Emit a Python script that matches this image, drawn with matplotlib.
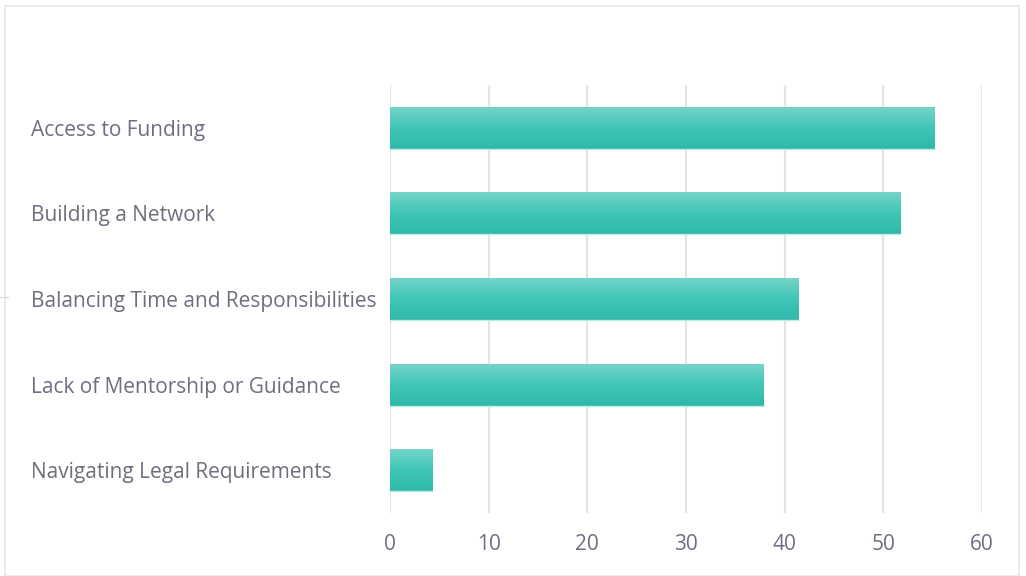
import matplotlib.pyplot as plt
import numpy as np
from matplotlib.patches import Rectangle
from matplotlib.colors import LinearSegmentedColormap

plt.rcParams['font.family'] = ['Open Sans', 'DejaVu Sans']

categories = ['Access to Funding', 'Building a Network', 'Balancing Time and Responsibilities',
              'Lack of Mentorship or Guidance', 'Navigating Legal Requirements']
values = [55.2, 51.7, 41.4, 37.9, 4.3]
xticks = [0, 10, 20, 30, 40, 50, 60]

text_color = '#6e6e80'

fig = plt.figure(figsize=(10.26, 5.76), dpi=100)
fig.patches.append(Rectangle((5 / 1026, 0), 1014 / 1026, 570 / 576, transform=fig.transFigure,
                             fill=False, edgecolor='#e6e6e6', linewidth=1.2))
fig.lines.append(plt.Line2D([0, 8 / 1026], [279 / 576, 279 / 576], transform=fig.transFigure,
                            color='#dddddd', linewidth=1))

ax = fig.add_axes([390 / 1026, 63 / 576, 592 / 1026, 428 / 576])
y = np.arange(len(categories))
bars = ax.barh(y, values, height=0.49, color='none', edgecolor='none', zorder=2)

cmap = LinearSegmentedColormap.from_list('teal', ['#2fb8a8', '#3fc6b7', '#74d4c9'])
grad = np.linspace(0, 1, 100).reshape(-1, 1)
for b in bars:
    x0, y0 = b.get_x(), b.get_y()
    w, h = b.get_width(), b.get_height()
    im = ax.imshow(grad, cmap=cmap, aspect='auto', extent=[x0, x0 + w, y0 + h, y0],
                   origin='lower', zorder=3)
    im.set_clip_path(b)
    ax.plot([x0, x0 + w], [y0 + h, y0 + h], color='#bfece6', linewidth=1, zorder=4)

ax.set_xlim(0, 60)
ax.set_ylim(len(categories) - 0.5, -0.5)
ax.set_xticks(xticks)
ax.set_yticks(y)
ax.set_yticklabels(categories, ha='left')
ax.grid(axis='x', color='#e4e4e4', linewidth=1.6, zorder=0)
ax.set_axisbelow(True)
for s in ax.spines.values():
    s.set_visible(False)
ax.tick_params(axis='y', length=0, pad=258.5, labelsize=15, labelcolor=text_color)
ax.tick_params(axis='x', length=0, pad=15, labelsize=15, labelcolor=text_color)

fig.savefig('out.png', dpi=100)
